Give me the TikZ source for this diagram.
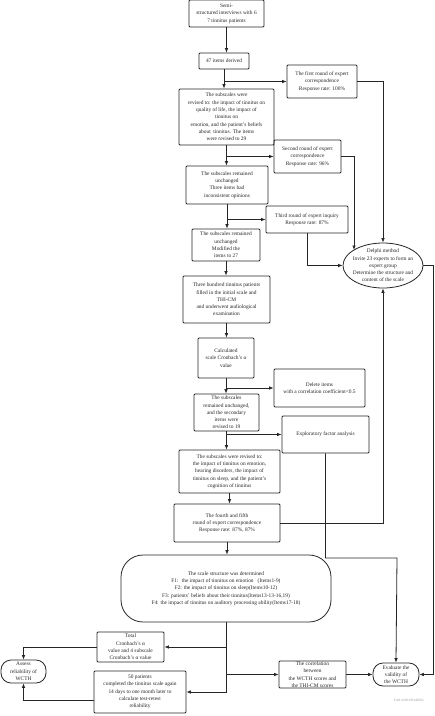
\documentclass[tikz,border=0pt]{standalone}
\usepackage{fontspec}
\setmainfont{Liberation Serif}
\usetikzlibrary{arrows.meta, shapes.geometric, calc}

\begin{document}
\begin{tikzpicture}[x = 1pt, y = -1pt, line width = 0.8pt, color = black!85, font = \fontsize{5.4}{7.3}\selectfont, box/.style = {draw, rounded corners = 1pt, align = center, inner sep = 0pt}, pill/.style = {box, rounded corners = 10pt}, arr/.style = {-{Latex[length = 4.5pt, width = 3.6pt]}}]
    \useasboundingbox (0,0) rectangle (435,716);
    % main column
    \node[box, minimum width = 75, minimum height = 27] (semi) at (226.5,13.5) {Semi-\\structured interviews with 6\\7 tinnitus patients};
    \node[box, minimum width = 50, minimum height = 16] (items) at (224,61) {47 items derived};
    \node[box, minimum width = 95, minimum height = 56] (rev29) at (226.5,117) {The subscales were\\revised to: the impact of tinnitus on\\quality of life, the impact of\\tinnitus on\\emotion, and the patient's beliefs\\about~ tinnitus. The items\\were revised to 29};
    \node[box, minimum width = 82, minimum height = 38] (unchanged) at (227,185) {The subscales remained\\unchanged\\Three items had\\inconsistent opinions};
    \node[box, minimum width = 68, minimum height = 32] (rev27) at (226,245) {The subscales remained\\unchanged\\Modified the\\items to 27};
    \node[box, minimum width = 87, minimum height = 47] (patients) at (226.5,299.5) {Three hundred tinnitus patients\\filled in the initial scale and\\THI-CM\\and underwent audiological\\examination};
    \node[box, minimum width = 56, minimum height = 40] (alpha) at (226,358) {Calculated\\scale Cronbach's α\\value};
    \node[box, minimum width = 65, minimum height = 37] (rev19) at (226.5,412.5) {The subscales\\remained unchanged,\\and the secondary\\items were\\revised to 19};
    \node[box, minimum width = 101, minimum height = 43] (rev4) at (229.5,471.5) {The subscales were revised to:\\the impact of tinnitus on emotion,\\hearing disorders, the impact of\\tinnitus on sleep, and the patient's\\cognition of tinnitus};
    \node[box, minimum width = 106, minimum height = 38] (round45) at (227,523) {The fourth and fifth\\round of expert correspondence\\Response rate: 87\%, 87\%};
    \node[pill, rounded corners = 22pt, minimum width = 210, minimum height = 67] (structure) at (226,588.5) {The scale structure was determined\\F1:~ the impact of tinnitus on emotion~~ (Items1-9)\\F2: the impact of tinnitus on sleep(Items10-12)\\F3: patients' beliefs about their tinnitus(Items13-13-16,19)\\F4: the impact of tinnitus on auditory processing ability(Items17-18)};
    % expert rounds
    \node[box, minimum width = 70, minimum height = 33] (round1) at (322,81.5) {The first round of expert\\correspondence\\Response rate: 100\%};
    \node[box, minimum width = 67, minimum height = 33] (round2) at (307.5,156.5) {Second round of expert\\correspondence\\Response rate: 96\%};
    \node[box, minimum width = 82, minimum height = 27] (round3) at (307,219.5) {Third round of expert inquiry\\Response rate: 87\%};
    \node[draw, ellipse, minimum width = 80, minimum height = 45, inner sep = 0pt] (delphi) at (383,265.5) {};
    \node[align = center] at (delphi) {Delphi method\\Invite 23 experts to form an\\expert group\\Determine the structure and\\content of the scale};
    \node[box, minimum width = 91, minimum height = 38] (delete) at (319.5,388) {Delete items\\with a correlation coefficient<0.5};
    \node[box, minimum width = 87, minimum height = 37] (efa) at (325.5,434.5) {Exploratory factor analysis};
    % reliability and validity
    \node[box, minimum width = 67, minimum height = 30] (total) at (130.5,647) {Total\\Cronbach's α\\value and 4 subscale\\Cronbach's α value};
    \node[box, minimum width = 92, minimum height = 42] (retest) at (140,692) {50 patients\\completed the tinnitus scale again\\14 days to one month later to\\calculate test-retest\\reliability};
    \node[pill, minimum width = 45, minimum height = 23] (reliab) at (23.5,671.5) {Assess\\reliability of\\WCTH};
    \node[box, minimum width = 67, minimum height = 27] (corr) at (312.5,674.5) {The correlation\\between\\the WCTH scores and\\the THI-CM scores};
    \node[pill, minimum width = 46, minimum height = 23] (valid) at (396,674.5) {Evaluate the\\validity of\\the WCTH};
    \node[font = \fontsize{3.3}{4}\selectfont, text = black!40] (mark) at (409,700) {EAR AND HEARING};
    \coordinate (efabend) at (397,558);
    \coordinate (rightbend) at (433,674.5);
    \coordinate (d2) at ($(delphi.center)+(-29,-15.5)$);
    % trunk
    \draw[arr] (semi) -- (semi |- items.north);
    \draw[arr] (items) -- (items |- rev29.north);
    \draw[arr] (rev29) -- (rev29 |- unchanged.north);
    \draw[arr] (unchanged) -- (unchanged |- rev27.north);
    \draw[arr] (rev27) -- (rev27 |- patients.north);
    \draw[arr] (patients) -- (patients |- alpha.north);
    \draw[arr] (alpha) -- (alpha |- rev19.north);
    \draw[arr] (rev19) -- (rev19 |- rev4.north);
    \draw[arr] (rev4) -- (rev4 |- round45.north);
    \draw[arr] (round45) -- (round45 |- structure.north);
    % branches
    \draw[arr] (items.south |- round1.west) -- (round1.west);
    \draw[arr] (rev29.south |- round2.west) -- (round2.west);
    \draw[arr] (unchanged.south |- round3.west) -- (round3.west);
    \draw[arr] (alpha.south |- delete.west) -- (delete.west);
    \draw[arr] (rev19.south |- efa.west) -- (efa.west);
    \draw[arr] (round1.east) -| (delphi.north);
    \draw[arr] (round2.east) -| (d2);
    \draw[arr] (round3.south) |- (delphi.west);
    \draw[arr] (round45.east) -| (delphi.south);
    \draw[arr] (efa.south) |- (efabend) -- (valid.north);
    \draw[arr] (delphi.east) -| (rightbend) -- (valid.east);
    % bottom
    \draw[arr] (structure.south) |- (total.east);
    \draw[arr] (structure.south) |- (retest.east);
    \draw[arr] (structure.south) |- (corr.west);
    \draw[arr] (total.west) -| (reliab.north);
    \draw[arr] ([yshift = -8pt]retest.west) -| (reliab.south);
    \draw[arr] (corr.east) -- (valid.west);
\end{tikzpicture}
\end{document}
